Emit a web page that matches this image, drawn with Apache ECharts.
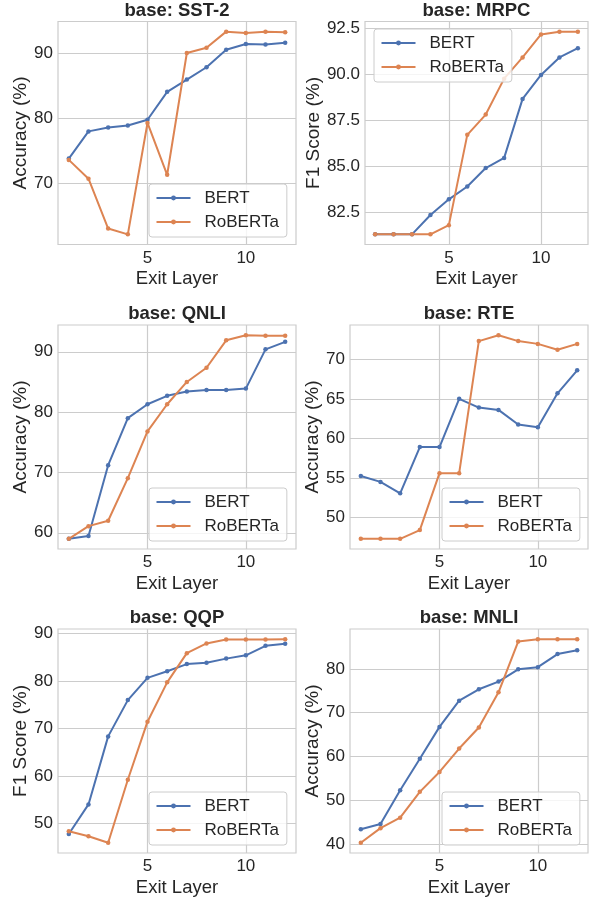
<!DOCTYPE html>
<html>
<head>
<meta charset="utf-8">
<script src="https://cdn.jsdelivr.net/npm/echarts@6/dist/echarts.min.js"></script>
<style>
html,body{margin:0;padding:0;background:#fff;}
#chart{width:592px;height:899px;}
</style>
</head>
<body>
<div id="chart"></div>
<script>
const layers = [1, 2, 3, 4, 5, 6, 7, 8, 9, 10, 11, 12];
const seriesNames = ['BERT', 'RoBERTa'];
const xTicks = [5, 10];

const sst2Bert    = [73.8, 78.0, 78.6, 78.9, 79.8, 84.1, 86.0, 87.9, 90.6, 91.5, 91.4, 91.7];
const sst2Roberta = [73.6, 70.7, 63.0, 62.1, 79.3, 71.3, 90.1, 90.9, 93.4, 93.2, 93.4, 93.3];
const mrpcBert    = [81.3, 81.3, 81.3, 82.35, 83.2, 83.9, 84.9, 85.45, 88.65, 89.95, 90.9, 91.4];
const mrpcRoberta = [81.3, 81.3, 81.3, 81.3, 81.8, 86.7, 87.8, 89.75, 90.9, 92.15, 92.3, 92.3];
const qnliBert    = [59.0, 59.45, 71.2, 79.0, 81.3, 82.7, 83.4, 83.65, 83.65, 83.9, 90.4, 91.65];
const qnliRoberta = [59.0, 61.1, 62.0, 69.05, 76.8, 81.3, 85.0, 87.35, 91.9, 92.75, 92.65, 92.65];
const rteBert     = [55.25, 54.5, 53.05, 58.9, 58.9, 65.0, 63.9, 63.6, 61.75, 61.4, 65.7, 68.6];
const rteRoberta  = [47.3, 47.3, 47.3, 48.4, 55.6, 55.6, 72.3, 73.05, 72.3, 71.95, 71.2, 71.95];
const qqpBert     = [47.75, 54.0, 68.35, 76.0, 80.7, 82.1, 83.6, 83.9, 84.75, 85.45, 87.45, 87.9];
const qqpRoberta  = [48.35, 47.3, 45.9, 59.2, 71.45, 79.75, 85.9, 87.95, 88.8, 88.8, 88.8, 88.85];
const mnliBert    = [43.35, 44.55, 52.25, 59.45, 66.75, 72.75, 75.35, 77.1, 79.9, 80.4, 83.4, 84.25];
const mnliRoberta = [40.25, 43.6, 46.0, 51.9, 56.45, 61.8, 66.6, 74.65, 86.25, 86.8, 86.8, 86.8];

const sst2Ticks = [70, 80, 90];
const mrpcTicks = [82.5, 85, 87.5, 90, 92.5];
const qnliTicks = [60, 70, 80, 90];
const rteTicks  = [50, 55, 60, 65, 70];
const qqpTicks  = [50, 60, 70, 80, 90];
const mnliTicks = [40, 50, 60, 70, 80];

const titles = ['base: SST-2', 'base: MRPC', 'base: QNLI', 'base: RTE', 'base: QQP', 'base: MNLI'];
const yNames = ['Accuracy (%)', 'F1 Score (%)', 'Accuracy (%)', 'Accuracy (%)', 'F1 Score (%)', 'Accuracy (%)'];
const xName = 'Exit Layer';

const panels = [
  {title: titles[0], yName: yNames[0], bert: sst2Bert, rob: sst2Roberta, ticks: sst2Ticks, dec: 0},
  {title: titles[1], yName: yNames[1], bert: mrpcBert, rob: mrpcRoberta, ticks: mrpcTicks, dec: 1},
  {title: titles[2], yName: yNames[2], bert: qnliBert, rob: qnliRoberta, ticks: qnliTicks, dec: 0},
  {title: titles[3], yName: yNames[3], bert: rteBert, rob: rteRoberta, ticks: rteTicks, dec: 0},
  {title: titles[4], yName: yNames[4], bert: qqpBert, rob: qqpRoberta, ticks: qqpTicks, dec: 0},
  {title: titles[5], yName: yNames[5], bert: mnliBert, rob: mnliRoberta, ticks: mnliTicks, dec: 0}
];

// layout (pixels)
const layout = [
  {left: 58, top: 21.5, width: 238, height: 223, nameGap: 27, legend: {left: 149, top: 184}},
  {left: 365, top: 21.5, width: 223, height: 223, nameGap: 42, legend: {left: 374, top: 29}},
  {left: 58, top: 325, width: 238, height: 224, nameGap: 27, legend: {left: 149, top: 488}},
  {left: 350, top: 325, width: 238, height: 224, nameGap: 28, legend: {left: 442, top: 488}},
  {left: 58, top: 629, width: 238, height: 224, nameGap: 28, legend: {left: 149, top: 792}},
  {left: 350, top: 629, width: 238, height: 224, nameGap: 28, legend: {left: 442, top: 792}}
];

const FONT = 'Liberation Sans, Arial, sans-serif';
const TXT = '#262626';
const GRIDC = '#cccccc';
const BLUE = '#4c72b0';
const ORANGE = '#dd8452';

const xMin = layers[0] - 0.05 * (layers[layers.length - 1] - layers[0]);
const xMax = layers[layers.length - 1] + 0.05 * (layers[layers.length - 1] - layers[0]);

const option = {
  backgroundColor: '#ffffff',
  animation: false,
  title: [], grid: [], xAxis: [], yAxis: [], legend: [], series: []
};

panels.forEach((p, i) => {
  const L = layout[i];
  const all = p.bert.concat(p.rob);
  const lo = Math.min(...all), hi = Math.max(...all);
  const pad = 0.05 * (hi - lo);
  option.grid.push({
    left: L.left, top: L.top, width: L.width, height: L.height,
    show: true, borderColor: GRIDC, borderWidth: 1.2, backgroundColor: 'transparent',
    containLabel: false
  });
  option.title.push({
    text: p.title,
    left: L.left + L.width / 2,
    top: L.top - 20.5,
    padding: 0,
    textAlign: 'center',
    textStyle: {fontFamily: FONT, fontWeight: 'bold', fontSize: 18.5, color: TXT}
  });
  option.xAxis.push({
    type: 'value', gridIndex: i, min: xMin, max: xMax,
    name: xName, nameLocation: 'middle', nameGap: 25,
    nameTextStyle: {fontFamily: FONT, fontSize: 18.5, color: TXT},
    axisLine: {show: false},
    axisTick: {show: false, customValues: xTicks},
    axisLabel: {customValues: xTicks, fontFamily: FONT, fontSize: 17, color: TXT, margin: 5},
    splitLine: {show: true, lineStyle: {color: GRIDC, width: 1.2}}
  });
  option.yAxis.push({
    type: 'value', gridIndex: i, min: lo - pad, max: hi + pad,
    name: p.yName, nameLocation: 'middle', nameGap: L.nameGap,
    nameTextStyle: {fontFamily: FONT, fontSize: 19, color: TXT},
    axisLine: {show: false},
    axisTick: {show: false, customValues: p.ticks},
    axisLabel: {customValues: p.ticks, fontFamily: FONT, fontSize: 17, color: TXT, margin: 5,
      formatter: (v) => Number(v).toFixed(p.dec)},
    splitLine: {show: true, lineStyle: {color: GRIDC, width: 1.2}}
  });
  option.legend.push({
    data: seriesNames,
    orient: 'vertical',
    left: L.legend.left, top: L.legend.top,
    itemWidth: 34, itemHeight: 6, itemGap: 6,
    padding: [5, 8, 6, 6.5],
    backgroundColor: 'rgba(255,255,255,0.8)',
    borderColor: GRIDC, borderWidth: 1, borderRadius: 3,
    textStyle: {fontFamily: FONT, fontSize: 17, color: TXT, lineHeight: 18, padding: [0, 0, 0, 9]}
  });
  const mk = (name, vals, color) => ({
    name: name, type: 'line', xAxisIndex: i, yAxisIndex: i,
    data: layers.map((x, k) => [x, vals[k]]),
    symbol: 'circle', symbolSize: 4.5, showSymbol: true,
    lineStyle: {color: color, width: 2},
    itemStyle: {color: color},
    emphasis: {disabled: true}
  });
  option.series.push(mk(seriesNames[0], p.bert, BLUE));
  option.series.push(mk(seriesNames[1], p.rob, ORANGE));
});

const chart = echarts.init(document.getElementById('chart'), null, {renderer: 'canvas'});
chart.setOption(option);
</script>
</body>
</html>
